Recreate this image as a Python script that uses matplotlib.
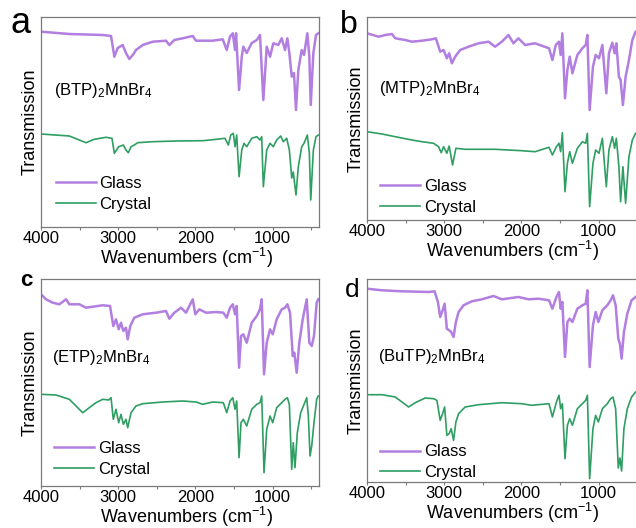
import matplotlib
matplotlib.use("Agg")
import matplotlib.pyplot as plt
from matplotlib.ticker import MultipleLocator

plt.rcParams['font.family'] = ['Liberation Sans', 'DejaVu Sans']
plt.rcParams['mathtext.fontset'] = 'custom'
plt.rcParams['mathtext.rm'] = 'Liberation Sans'
plt.rcParams['mathtext.it'] = 'Liberation Sans:italic'

# ---- data (wavenumber in cm-1, transmission in arbitrary offset units) ----
compounds = ["(BTP)$_2$MnBr$_4$", "(MTP)$_2$MnBr$_4$", "(ETP)$_2$MnBr$_4$", "(BuTP)$_2$MnBr$_4$"]
panel_letters = ["a", "b", "c", "d"]
series_names = ["Glass", "Crystal"]

# (a) BTP
wn_a_glass = [4000, 3633, 3200, 3093, 3050, 3007, 2942, 2900, 2856, 2812, 2770, 2683, 2553, 2381, 2338, 2273,
              2165, 2035, 1993, 1776, 1647, 1595, 1552, 1517, 1487, 1474, 1435, 1400, 1380, 1336, 1271, 1206,
              1164, 1121, 1077, 1034, 992, 927, 883, 840, 810, 784, 753, 724, 698, 668, 624, 594, 551, 525,
              507, 473, 439, 409]
t_a_glass = [195.3, 193, 192, 191, 170.3, 179, 182, 174, 168, 172, 177, 182, 185.3, 186.3, 182, 187,
             188.7, 191, 186.3, 186.3, 187.7, 177, 190.3, 193.7, 177, 193.7, 137, 170.3, 180.3, 174, 184, 187,
             192, 127, 180.3, 170.3, 183.7, 182, 188.7, 177, 188.7, 174, 150.3, 154, 117, 157, 177, 172, 193.7, 170.3,
             122, 174, 192, 193.7]
wn_a_crystal = [4000, 3633, 3504, 3417, 3310, 3158, 3081, 3050, 2994, 2934, 2900, 2869, 2834, 2792, 2748, 2553,
                2252, 1906, 1811, 1617, 1574, 1543, 1510, 1487, 1466, 1435, 1400, 1371, 1336, 1271, 1206, 1164,
                1142, 1121, 1077, 1034, 992, 948, 896, 862, 818, 784, 753, 733, 698, 668, 624, 594, 551, 525,
                507, 473, 439, 409]
t_a_crystal = [93, 91, 87, 84.3, 87.7, 89.7, 88.7, 73.7, 80.3, 82, 77, 74.3, 80.3, 82, 84.3, 85.3,
               86, 86.3, 87, 88.7, 82, 92, 93.7, 80.3, 92, 50.3, 77, 83.7, 80.3, 88.7, 90.3, 87,
               90.3, 40.3, 77, 83.7, 80.3, 87, 91, 85.3, 88.7, 77, 49, 55, 32, 60.3, 80.3, 83.7, 92, 73.7,
               27, 77, 90.3, 92]

# (b) MTP
wn_b_glass = [4000, 3849, 3763, 3677, 3634, 3505, 3418, 3289, 3160, 3108, 3052, 3008, 2966, 2936, 2901, 2858,
              2794, 2685, 2556, 2426, 2341, 2254, 2168, 2103, 2039, 1953, 1824, 1643, 1599, 1556, 1514, 1492,
              1470, 1436, 1405, 1375, 1340, 1276, 1211, 1168, 1146, 1117, 1074, 1039, 996, 952, 901, 867,
              823, 793, 771, 738, 716, 686, 651, 608, 564, 522, 480]
t_b_glass = [186.7, 183.3, 185, 186, 181.7, 180, 178.3, 179.3, 180.7, 181.7, 168.3, 170, 161.7, 166.7, 156.7, 163.3,
             170, 173.3, 176.7, 178.3, 173.3, 178.3, 185, 176.7, 181.7, 175, 176.7, 171.7, 160, 175, 178.3, 165,
             186.7, 121.7, 150, 163.3, 146.7, 165, 171.7, 175, 185, 110, 153.3, 165, 161.7, 175, 126.7, 166.7,
             177.3, 166.7, 176.7, 143.3, 140, 115, 143.3, 160, 180, 188.3, 189]
wn_b_crystal = [4000, 3806, 3634, 3418, 3289, 3138, 3073, 3039, 3008, 2966, 2936, 2892, 2849, 2729, 2341, 1996,
                1824, 1643, 1599, 1547, 1514, 1492, 1470, 1436, 1405, 1375, 1340, 1276, 1211, 1168, 1146, 1117,
                1074, 1039, 996, 952, 901, 867, 823, 793, 771, 738, 716, 686, 651, 608, 564, 522, 480]
t_b_crystal = [88.3, 86, 83.3, 80, 78.3, 76.7, 73.3, 67.3, 73.3, 66.7, 74, 55, 71.7, 70.7, 70.7, 69.3,
               68.3, 72.7, 65, 73.3, 76.7, 68.3, 87.3, 28.3, 56.7, 68.3, 56.7, 71.7, 78.3, 76.7, 86.7, 13.3,
               56.7, 70, 66.7, 81.7, 33.3, 70, 83.3, 71.7, 81.7, 53.3, 18.3, 53.3, 16.7, 63.3, 80, 86.7, 88]

# (c) ETP
wn_c_glass = [4000, 3935, 3848, 3763, 3676, 3633, 3504, 3417, 3330, 3200, 3106, 3064, 3029, 2994, 2964, 2934,
              2900, 2877, 2844, 2792, 2683, 2511, 2381, 2338, 2273, 2187, 2122, 2035, 2002, 1950, 1863, 1734,
              1639, 1595, 1552, 1517, 1487, 1466, 1435, 1410, 1380, 1336, 1271, 1206, 1164, 1142, 1112, 1077,
              1034, 999, 948, 883, 840, 810, 775, 740, 720, 689, 655, 611, 559, 525, 494, 465, 430, 409]
t_c_glass = [191.7, 186.7, 183.3, 181.7, 186.7, 181.7, 181.7, 178.3, 179.3, 180.7, 180, 160, 166.7, 156.7, 163.3, 155,
             158.3, 146.7, 160, 168.3, 171.7, 173.3, 175, 167.3, 173.3, 178.3, 173.3, 186.7, 171.7, 176.7, 173.3, 174,
             173.3, 168.3, 178.3, 181.7, 171.7, 180, 118.3, 150, 151.7, 143.3, 163.3, 170, 176.7, 186.7, 111.7, 143.3,
             156.7, 151.7, 166.7, 176.7, 178.3, 181.7, 173.3, 130, 133.3, 113.3, 143.3, 166.7, 186.7, 143.3, 140, 150, 183.3, 186.7]
wn_c_crystal = [4000, 3806, 3633, 3547, 3460, 3375, 3288, 3200, 3123, 3093, 3064, 3029, 2994, 2964, 2934, 2900,
                2877, 2834, 2770, 2683, 2424, 2165, 1993, 1906, 1776, 1639, 1595, 1552, 1517, 1487, 1466, 1435,
                1410, 1380, 1336, 1271, 1206, 1164, 1142, 1112, 1077, 1034, 999, 948, 883, 840, 810, 784,
                753, 733, 711, 681, 637, 559, 538, 516, 494, 465, 430, 409]
t_c_crystal = [91.7, 91, 86.7, 80, 73.3, 78.3, 83.3, 86.7, 86, 88.3, 66.7, 76.7, 63.3, 71.7, 61.7, 66.7,
               58.3, 73.3, 80, 82.3, 84, 85, 84, 81.7, 84, 83.3, 73.3, 85, 88.3, 76.7, 85, 28.3,
               63.3, 66.7, 60, 76.7, 81.7, 83.3, 90, 13.3, 56.7, 70, 63.3, 78.3, 83.3, 86.7, 88.3, 81.7,
               16.7, 43.3, 18.3, 53.3, 73.3, 88.3, 70, 30, 40, 63.3, 86.7, 90]

# (d) BuTP
wn_d_glass = [4000, 3806, 3547, 3202, 3125, 3082, 3052, 3021, 2995, 2966, 2936, 2910, 2879, 2849, 2814, 2750,
              2642, 2513, 2362, 2254, 2039, 1909, 1780, 1643, 1599, 1547, 1514, 1492, 1470, 1436, 1405, 1375,
              1340, 1276, 1211, 1168, 1146, 1117, 1074, 1039, 1004, 952, 888, 845, 815, 780, 746, 725,
              703, 673, 629, 574, 522, 480]
t_d_glass = [193.3, 191.7, 190.7, 190, 190.7, 180, 165, 171.7, 178.3, 153.3, 151.7, 150, 145, 160, 170, 176.7,
             180.7, 182.7, 186, 182.7, 185, 182.7, 183.3, 181.7, 173.3, 185, 190, 173.3, 180, 125, 160, 163.3,
             160, 173.3, 176.7, 178.3, 191.7, 115, 156.7, 170, 160, 171.7, 176.7, 181.7, 186.7, 176.7, 143.3, 138.3,
             123.3, 150, 168.3, 181.7, 185, 187]
wn_d_crystal = [4000, 3806, 3634, 3547, 3461, 3375, 3246, 3138, 3095, 3052, 3021, 2995, 2966, 2936, 2910, 2879,
                2849, 2814, 2729, 2556, 2254, 1996, 1867, 1643, 1599, 1547, 1514, 1492, 1470, 1436, 1405, 1375,
                1340, 1276, 1211, 1168, 1146, 1117, 1074, 1039, 1004, 952, 888, 845, 815, 780, 746, 725,
                703, 673, 629, 574, 522, 480]
t_d_crystal = [87.3, 87.3, 85, 80, 75, 79.3, 84, 83.3, 81.7, 61.7, 68.3, 75, 46.7, 48.3, 53.3, 41.7,
               60, 68.3, 75, 77.3, 79.3, 78.3, 76.7, 78.3, 65, 80, 86.7, 73.3, 78.3, 23.3, 56.7, 63.3,
               56.7, 73.3, 78.3, 81.7, 86.7, 3.3, 53.3, 66.7, 60, 73.3, 78.3, 83.3, 85, 73.3, 14, 24,
               11, 53.3, 73.3, 85, 90, 92]

glass_data = [(wn_a_glass, t_a_glass), (wn_b_glass, t_b_glass), (wn_c_glass, t_c_glass), (wn_d_glass, t_d_glass)]
crystal_data = [(wn_a_crystal, t_a_crystal), (wn_b_crystal, t_b_crystal),
                (wn_c_crystal, t_c_crystal), (wn_d_crystal, t_d_crystal)]

# ---- layout (pixel boxes of the original figure: left, top, bottom) ----
W, H = 636, 528
boxes = [(41, 17, 227), (367, 17, 220), (41, 279, 486), (367, 279, 482)]
ax_w = 278
legend_anchor = [(0.035, 0.05), (0.03, 0.0), (0.03, 0.02), (0.03, -0.015)]
compound_pos = [(0.047, 0.652), (0.043, 0.65), (0.04, 0.623), (0.04, 0.616)]
letter_pos = [(10, 33, 26, "normal"), (340, 33, 23, "normal"), (20, 286, 16, "bold"), (345, 297, 19, "normal")]

purple = "#B27EE0"
green = "#2E9E62"
spine_col = "#7a7a7a"

fig = plt.figure(figsize=(W / 100, H / 100), dpi=100)

for i in range(4):
    left, top, bottom = boxes[i]
    h = bottom - top
    ax = fig.add_axes([left / W, (H - bottom) / H, ax_w / W, h / H])
    ax.plot(glass_data[i][0], glass_data[i][1], color=purple, lw=1.8, label=series_names[0])
    ax.plot(crystal_data[i][0], crystal_data[i][1], color=green, lw=1.2, label=series_names[1])
    ax.set_xlim(4000, 400)
    ax.set_ylim(0, h)
    ax.xaxis.set_major_locator(MultipleLocator(1000))
    ax.xaxis.set_minor_locator(MultipleLocator(500))
    ax.set_yticks([])
    ax.tick_params(axis='x', which='both', direction='out', length=2.5, width=0.8,
                   color=spine_col, labelsize=12, pad=0.5)
    for s in ax.spines.values():
        s.set_color(spine_col)
        s.set_linewidth(0.9)
    ax.set_xlabel("Wavenumbers (cm$^{-1}$)", fontsize=13)
    ax.xaxis.set_label_coords(0.5 + 6.5 / ax_w, -19 / h)
    ax.set_ylabel("Transmission", fontsize=13, labelpad=2)
    ax.text(compound_pos[i][0], compound_pos[i][1], compounds[i], transform=ax.transAxes,
            fontsize=12, va='center', ha='left')
    ax.legend(loc='lower left', bbox_to_anchor=legend_anchor[i], frameon=False, fontsize=12,
              handlelength=2.4, handletextpad=0.2, labelspacing=0.34, borderaxespad=0, borderpad=0.3)
    lx, ly, lsize, lweight = letter_pos[i]
    fig.text(lx / W, 1 - ly / H, panel_letters[i], fontsize=lsize, fontweight=lweight,
             ha='left', va='baseline')

fig.savefig("out.png", dpi=100)
